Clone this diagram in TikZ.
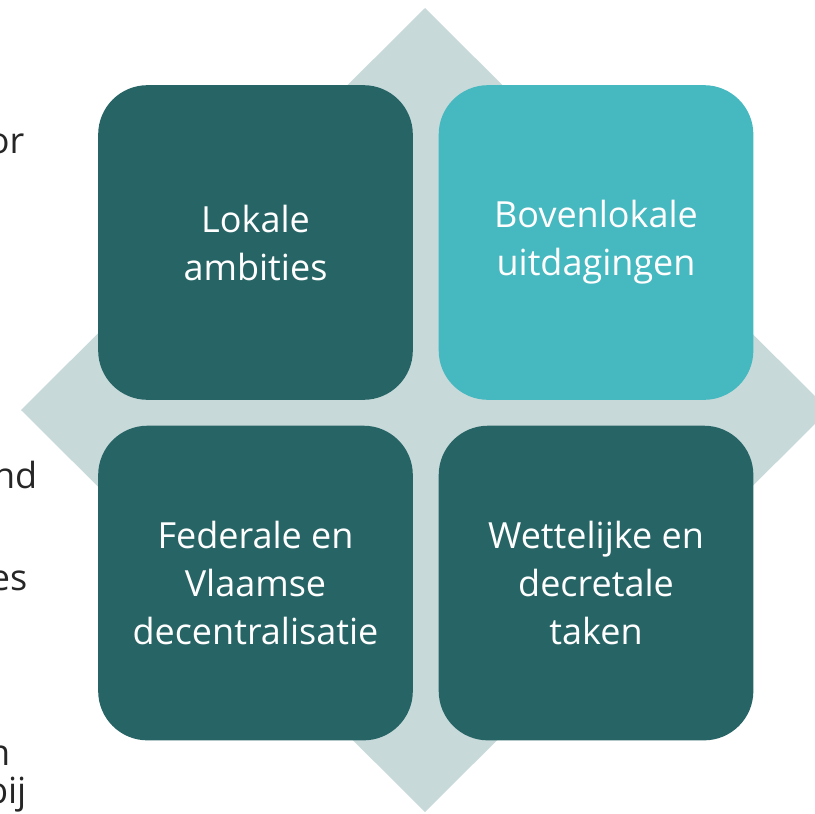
\documentclass[tikz,border=0pt]{standalone}
\usepackage{fontspec}
\setmainfont{Open Sans}
\usetikzlibrary{positioning}
\definecolor{tiledark}{RGB}{39,100,101}
\definecolor{tilelight}{RGB}{69,184,192}
\definecolor{diamondgrey}{RGB}{200,217,218}
\definecolor{textgrey}{RGB}{38,38,38}

\begin{document}
\begin{tikzpicture}[x=0.75pt, y=-0.75pt,
  tile/.style={rounded corners=37pt, minimum size=236pt, inner sep=0pt,
    text=white, align=center, font=\fontsize{27}{36}\selectfont},
  cut/.style={anchor=base east, text=textgrey, font=\fontsize{27}{36}\selectfont}]
\clip (0,0) rectangle (815,814);
% background diamond
\fill[diamondgrey] (425,8) -- (829,410) -- (425,812) -- (21,410) -- cycle;
% four tiles
\node[tile, fill=tiledark] (la) at (255.5,242.5) {Lokale\\ambities};
\node[tile, fill=tilelight, right=19pt of la] (bu) {Bovenlokale\\uitdagingen};
\node[tile, fill=tiledark, below=19pt of la] (fv) {Federale en\\Vlaamse\\decentralisatie};
\node[tile, fill=tiledark, right=19pt of fv] (wd) {Wettelijke en\\decretale\\taken};
% text cut off at the left edge
\node[cut] (t1) at (29,153) {or};
\node[cut] (t2) at (42,488) {nd};
\node[cut] (t3) at (32,590) {es};
\node[cut] (t4) at (15,765) {n};
\node[cut] (t5) at (31,803) {bij};
\end{tikzpicture}
\end{document}
